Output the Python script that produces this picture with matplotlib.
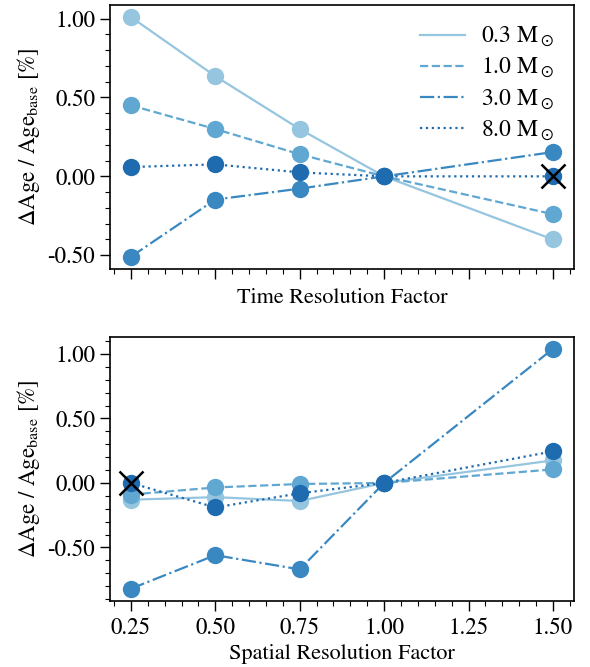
import matplotlib
matplotlib.use("Agg")
import matplotlib.pyplot as plt
from matplotlib.lines import Line2D
from matplotlib.ticker import MultipleLocator, FormatStrFormatter

plt.rcParams["font.family"] = "STIXGeneral"
plt.rcParams["mathtext.fontset"] = "stix"
plt.rcParams["axes.unicode_minus"] = False
plt.rcParams["font.size"] = 16.5

factors = [0.25, 0.50, 0.75, 1.00, 1.50]
masses = ["0.3", "1.0", "3.0", "8.0"]

time_03 = [1.01, 0.635, 0.30, 0.0, -0.40]
time_10 = [0.45, 0.30, 0.14, 0.0, -0.24]
time_30 = [-0.51, -0.147, -0.078, 0.0, 0.154]
time_80 = [0.059, 0.076, 0.025, 0.0, 0.0]

space_03 = [-0.13, -0.11, -0.14, 0.0, 0.175]
space_10 = [-0.09, -0.035, -0.008, 0.0, 0.105]
space_30 = [-0.82, -0.56, -0.67, 0.0, 1.04]
space_80 = [0.0, -0.19, -0.08, 0.0, 0.245]

# fiducial run marked with a cross
time_base = (1.50, 0.0)
space_base = (0.25, 0.0)

colors = ["#96c5df", "#60a7d2", "#3a88c2", "#1f6bb0"]
styles = ["-", "--", "-.", ":"]

fig = plt.figure(figsize=(5.9, 6.67), dpi=100)
ax_top = fig.add_axes([0.186, 0.597, 0.787, 0.3955])
ax_bot = fig.add_axes([0.186, 0.0994, 0.787, 0.3956], sharex=ax_top)

panels = [
    (ax_top, [time_03, time_10, time_30, time_80], time_base, "Time Resolution Factor", 7),
    (ax_bot, [space_03, space_10, space_30, space_80], space_base, "Spatial Resolution Factor", 4),
]

for ax, series, base, xlabel, pad in panels:
    for mass, values, color, ls in zip(masses, series, colors, styles):
        ax.plot(factors, values, color=color, linestyle=ls, linewidth=1.6,
                marker="o", markersize=12.5, markeredgewidth=0)
    ax.plot(*base, marker="x", color="black", markersize=17, markeredgewidth=1.8, linestyle="none")
    ax.set_xlabel(xlabel, fontsize=16, labelpad=pad)
    ax.set_ylabel(r"$\Delta$Age / Age$_{\rm base}$ [%]", fontsize=16.5)
    ax.yaxis.set_major_locator(MultipleLocator(0.5))
    ax.yaxis.set_minor_locator(MultipleLocator(0.1))
    ax.yaxis.set_major_formatter(FormatStrFormatter("%.2f"))
    ax.xaxis.set_major_locator(MultipleLocator(0.25))
    ax.xaxis.set_minor_locator(MultipleLocator(0.05))
    ax.xaxis.set_major_formatter(FormatStrFormatter("%.2f"))
    ax.tick_params(which="major", length=7, width=1.0, labelsize=16.5)
    ax.tick_params(axis="x", which="major", pad=5)
    ax.tick_params(which="minor", length=3.5, width=0.8)
    for spine in ax.spines.values():
        spine.set_linewidth(1.2)

ax_top.tick_params(axis="x", labelbottom=False)

handles = [Line2D([], [], color=c, linestyle=ls, linewidth=1.6) for c, ls in zip(colors, styles)]
labels = [rf"{m} M$_\odot$" for m in masses]
ax_top.legend(handles, labels, loc="upper right", frameon=False, handlelength=1.9,
              fontsize=17, borderaxespad=0.45, labelspacing=0.3, handletextpad=0.7)

fig.savefig("out.png", dpi=100)
